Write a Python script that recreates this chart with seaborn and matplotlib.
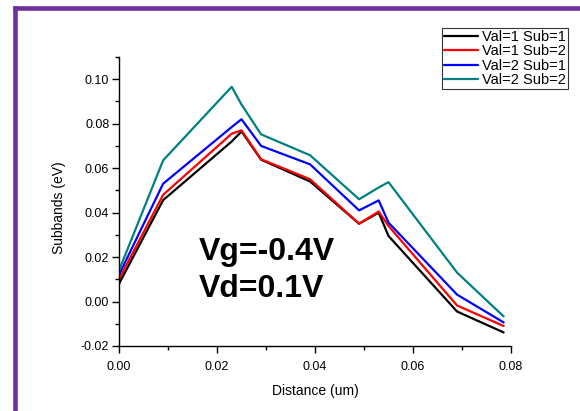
import numpy as np
import pandas as pd
import matplotlib
matplotlib.use("Agg")
import matplotlib.pyplot as plt
import seaborn as sns
from matplotlib.lines import Line2D
from matplotlib.ticker import MultipleLocator, FormatStrFormatter

# Data
distance = [0.0, 0.009, 0.023, 0.025, 0.029, 0.039, 0.049, 0.053, 0.055, 0.069, 0.0785]
val1_sub1 = [0.008, 0.0456, 0.072, 0.0765, 0.0638, 0.054, 0.035, 0.040, 0.0295, -0.0045, -0.0139]
val1_sub2 = [0.010, 0.048, 0.0755, 0.077, 0.064, 0.055, 0.035, 0.0405, 0.034, -0.0018, -0.011]
val2_sub1 = [0.012, 0.053, 0.0785, 0.082, 0.070, 0.0617, 0.041, 0.0455, 0.0355, 0.0031, -0.0094]
val2_sub2 = [0.014, 0.0635, 0.0966, 0.0886, 0.0752, 0.0658, 0.046, 0.0513, 0.0537, 0.013, -0.0067]

labels = ["Val=1 Sub=1", "Val=1 Sub=2", "Val=2 Sub=1", "Val=2 Sub=2"]
colors = ["#000000", "#ff0000", "#0000ff", "#008080"]

# Build long table for seaborn
frames = []
for lab, vals in zip(labels, [val1_sub1, val1_sub2, val2_sub1, val2_sub2]):
    frames.append(pd.DataFrame({"distance": distance, "energy": vals, "series": lab}))
df = pd.concat(frames, ignore_index=True)

sns.set_style("white")
plt.rcParams["font.family"] = ["Liberation Sans", "DejaVu Sans"]
plt.rcParams.update({"text.color": "black", "axes.labelcolor": "black",
                     "xtick.color": "black", "ytick.color": "black"})

fig = plt.figure(figsize=(5.8, 4.11), dpi=100)
ax = fig.add_axes([0.2052, 0.1582, 0.881 - 0.2052, 0.8613 - 0.1582])

sns.lineplot(data=df, x="distance", y="energy", hue="series", hue_order=labels,
             palette=colors, linewidth=1.6, sort=False, estimator=None, ax=ax, legend=False)

ax.set_xlim(0, 0.08)
ax.set_ylim(-0.02, 0.11)
ax.xaxis.set_major_locator(MultipleLocator(0.02))
ax.xaxis.set_minor_locator(MultipleLocator(0.01))
ax.yaxis.set_major_locator(MultipleLocator(0.02))
ax.yaxis.set_minor_locator(MultipleLocator(0.01))
ax.xaxis.set_major_formatter(FormatStrFormatter("%.2f"))
ax.yaxis.set_major_formatter(FormatStrFormatter("%.2f"))
ax.tick_params(which="major", direction="out", length=5, width=1, labelsize=9,
               bottom=True, left=True)
ax.tick_params(which="minor", direction="out", length=3, width=1,
               bottom=True, left=True)
ax.tick_params(axis="x", which="major", pad=6)
ax.tick_params(axis="y", which="major", pad=2)

for side in ["top", "right"]:
    ax.spines[side].set_visible(False)
for side in ["left", "bottom"]:
    ax.spines[side].set_color("black")
    ax.spines[side].set_linewidth(1)

ax.set_xlabel("Distance (um)", fontsize=10, labelpad=8)
ax.set_ylabel("Subbands (eV)", fontsize=10, labelpad=11)
ax.yaxis.label.set_y(0.48)

ax.text(0.0163, 0.0225, "Vg=-0.4V", fontsize=23, fontweight="bold", ha="left", va="center")
ax.text(0.0163, 0.0055, "Vd=0.1V", fontsize=23, fontweight="bold", ha="left", va="center")

handles = [Line2D([0], [0], color=c, lw=1.6) for c in colors]
leg = fig.legend(handles, labels, loc="upper right", bbox_to_anchor=(568 / 580, 1 - 28 / 411),
                 fontsize=10.5, frameon=True, fancybox=False, edgecolor="black",
                 borderpad=0.15, labelspacing=0.02, handlelength=2.3, handletextpad=0.3,
                 borderaxespad=0)
leg.get_frame().set_linewidth(0.8)

# purple frame around the slide
purple = "#7030a0"
fig.add_artist(Line2D([15 / 580, 15 / 580], [0, 1 - 8 / 411], color=purple, lw=3.3,
                      transform=fig.transFigure, solid_capstyle="projecting"))
fig.add_artist(Line2D([15 / 580, 1], [1 - 8 / 411, 1 - 8 / 411], color=purple, lw=3.3,
                      transform=fig.transFigure, solid_capstyle="projecting"))

fig.savefig("out.png", dpi=100)
